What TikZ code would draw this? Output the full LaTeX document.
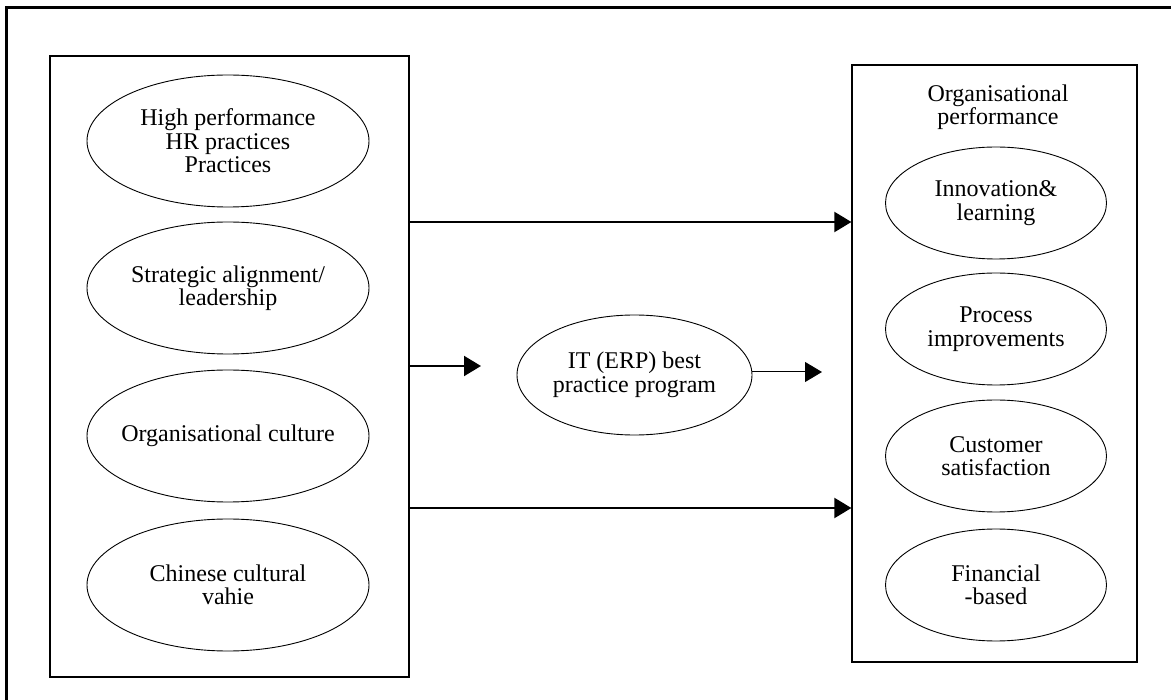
\documentclass[tikz,border=0pt]{standalone}
\usepackage{fontspec}
\setmainfont{Liberation Serif}
\usepackage{tikz}
\usetikzlibrary{shapes.geometric,arrows.meta}

\tikzset{
  oval/.style={draw,ellipse,line width=0.9pt,inner ysep=0pt,inner xsep=-25pt,align=center,
    minimum width=282pt,minimum height=132pt},
  smalloval/.style={draw,ellipse,line width=0.9pt,inner ysep=0pt,inner xsep=-10pt,align=center,
    minimum width=221pt,minimum height=112pt},
  panel/.style={draw,line width=1.2pt,inner sep=0pt},
  arr/.style={line width=2pt,-{Triangle[length=17pt,width=20pt]}},
}

\begin{document}
\begin{tikzpicture}[x=1pt,y=-1pt,font=\fontsize{24}{23.5}\selectfont]
\useasboundingbox (0,0) rectangle (1171,700);
% frame
\draw[line width=3pt] (6,700)--(6,8)--(1171,8);

% drivers
\node[panel,minimum width=359pt,minimum height=621pt] (drivers) at (229.5,366.5) {};
\node[oval] (hr) at (228,141) {High performance\\HR practices\\Practices};
\node[oval] (strat) at (228,288) {Strategic alignment/\\leadership};
\node[oval] (culture) at (228,436) {Organisational culture};
\node[oval] (chinese) at (228,585) {Chinese cultural\\vahie};

% IT program
\node[draw,ellipse,line width=0.9pt,inner ysep=0pt,inner xsep=-10pt,align=center,
  minimum width=235pt,minimum height=120pt] (erp) at (634.5,375) {IT (ERP) best\\practice program};

% performance
\node[panel,minimum width=285pt,minimum height=597pt] (perf) at (994.5,363.5) {};
\node[align=center] (perftitle) at (998,107) {Organisational\\performance};
\node[smalloval] (innov) at (996,203) {Innovation\&\\learning};
\node[smalloval] (process) at (996,329) {Process\\improvements};
\node[smalloval] (cust) at (996,456) {Customer\\satisfaction};
\node[smalloval] (fin) at (996,585) {Financial\\-based};

% arrows
\coordinate (top) at (409,222);
\coordinate (mid) at (409,366);
\coordinate (midend) at (481,366);
\coordinate (bot) at (409,508);
\coordinate (erpend) at (822,372);
\draw[arr] (top) -- (top -| perf.west);
\draw[arr] (mid) -- (midend);
\draw[arr,line width=1pt] (erp.east |- erpend) -- (erpend);
\draw[arr] (bot) -- (bot -| perf.west);
\end{tikzpicture}
\end{document}
